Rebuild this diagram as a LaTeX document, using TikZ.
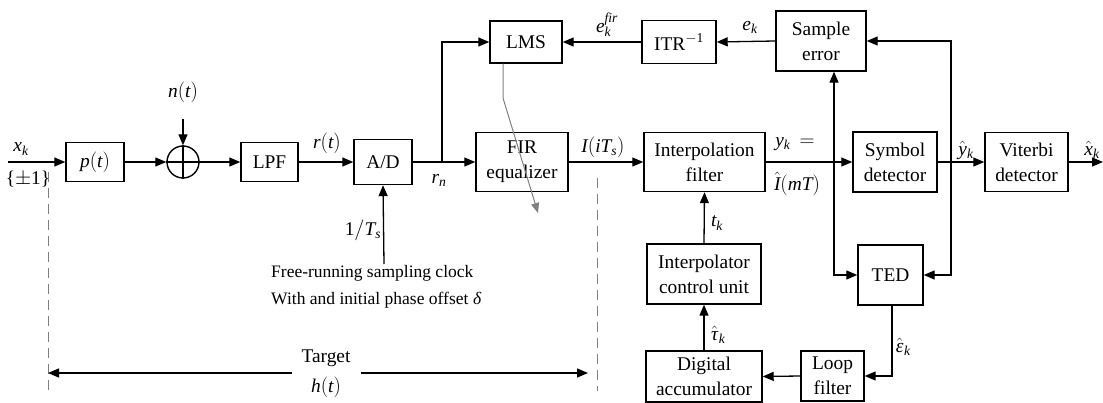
\documentclass[tikz,border=0pt]{standalone}
\usepackage{mathspec}
\setmainfont{Liberation Serif}
\setmathsfont(Digits,Latin,Greek){Liberation Serif}
\usetikzlibrary{arrows.meta}
\begin{document}
\begin{tikzpicture}[x=1pt,y=-1pt,
  font=\fontsize{19.4}{25}\selectfont,
  box/.style={draw, line width=1.4pt, align=center, inner sep=0pt},
  ar/.style={-{Triangle[length=11pt,width=9pt]}, line width=1.3pt},
  conn/.style={line width=1.3pt},
  lbl/.style={inner sep=0pt},
  grayline/.style={draw=gray, line width=1pt},
  dashln/.style={draw=gray, line width=1pt, dash pattern=on 10pt off 6pt}]
\useasboundingbox (0,0) rectangle (1103,403);

% blocks
\node[box, minimum width=58pt, minimum height=39pt] (pt) at (95,162) {$p(t)$};
\node[draw, circle, line width=1.4pt, minimum size=32pt, inner sep=0pt] (sum) at (183,162) {};
\draw[line width=1.3pt] (sum.north) -- (sum.south) (sum.west) -- (sum.east);
\node[box, minimum width=57pt, minimum height=39pt] (lpf) at (269.5,162) {LPF};
\node[box, minimum width=58pt, minimum height=45pt] (ad) at (383,162) {A/D};
\node[box, minimum width=92pt, minimum height=59pt] (fir) at (522,162) {FIR\\equalizer};
\node[box, minimum width=72pt, minimum height=42pt] (lms) at (526,42) {LMS};
\node[box, minimum width=74pt, minimum height=43pt] (itr) at (679,42) {ITR$^{-1}$};
\node[box, minimum width=90pt, minimum height=60pt] (serr) at (821,41) {Sample\\error};
\node[box, minimum width=121pt, minimum height=59pt] (interp) at (704.5,162) {Interpolation\\filter};
\node[box, minimum width=84pt, minimum height=60pt] (sym) at (895,162) {Symbol\\detector};
\node[box, minimum width=83pt, minimum height=59pt] (vit) at (1026.5,162) {Viterbi\\detector};
\node[box, minimum width=114pt, minimum height=60pt] (icu) at (704,274) {Interpolator\\control unit};
\node[box, minimum width=65pt, minimum height=60pt] (ted) at (890.5,275) {TED};
\node[box, minimum width=63pt, minimum height=50pt] (loop) at (832.5,376) {Loop\\filter};
\node[box, minimum width=116pt, minimum height=51pt] (dacc) at (704,376.5) {Digital\\accumulator};

% coordinates
\coordinate (xin) at (8,162);
\coordinate (brn) at (442,162);
\coordinate (bry) at (834,162);
\coordinate (bryh) at (951,162);
\coordinate (xout) at (1103,162);
\coordinate (clk) at (384,264);
\coordinate (g1) at (503,98);
\coordinate (g2) at (538,213);
\coordinate (dl1) at (48,172);
\coordinate (dl2) at (48,391);
\coordinate (dr1) at (597,178);
\coordinate (dr2) at (597,391);
\coordinate (tl) at (48,373);
\coordinate (tr) at (588,373);

% labels
\node[lbl] (lxk) at (21,149) {$x_k$};
\node[lbl] (lpm) at (28,179) {\{$\pm$1\}};
\node[lbl] (lnt) at (183,92) {$n(t)$};
\node[lbl] (lrt) at (327,143) {$r(t)$};
\node[lbl] (lrn) at (439,180) {$r_n$};
\node[lbl] (lI) at (603,147) {$I(iT_s)$};
\node[lbl] (lefir) at (607,25) {$e_k^{fir}$};
\node[lbl] (lek) at (750,27) {$e_k$};
\node[lbl] (lyk) at (795,144) {$y_k\,=$};
\node[lbl] (lImt) at (797,184) {$\hat{I}(mT)$};
\node[lbl] (lyh) at (966,150) {$\hat{y}_k$};
\node[lbl] (lxh) at (1092,150) {$\hat{x}_k$};
\node[lbl] (ltk) at (717,223) {$t_k$};
\node[lbl] (ltau) at (718,335) {$\hat{\tau}_k$};
\node[lbl] (leps) at (903,347) {$\hat{\epsilon}_k$};
\node[lbl] (lTs) at (363,230) {$1/T_s$};
\node[lbl, align=left, anchor=north west, font=\fontsize{17.5}{27}\selectfont] (lclk) at (271,265) {Free-running sampling clock\\With and initial phase offset $\delta$};

% connectors
\draw[ar] (xin) -- (pt.west);
\draw[ar] (pt.east) -- (sum.west);
\draw[ar] (lnt.south) ++(0,16) -- (sum.north);
\draw[ar] (sum.east) -- (lpf.west);
\draw[ar] (lpf.east) -- (ad.west);
\draw[ar] (ad.east) -- (fir.west);
\draw[ar] (brn) |- (lms.west);
\draw[ar] (fir.east) -- (interp.west);
\draw[ar] (interp.east) -- (sym.west);
\draw[ar] (sym.east) -- (vit.west);
\draw[ar] (vit.east) -- (xout);
\draw[ar] (bry) -- (bry |- serr.south);
\draw[ar] (bry) |- (ted.west);
\draw[ar] (bryh) |- (serr.east);
\draw[ar] (bryh) |- (ted.east);
\draw[ar] (serr.west) -- (itr.east);
\draw[ar] (itr.west) -- (lms.east);
\draw[ar] (ted.south -| 892,0) |- (loop.east);
\draw[ar] (loop.west) -- (dacc.east);
\draw[ar] (dacc.north) -- (icu.south);
\draw[ar] (icu.north) -- (interp.south);
\draw[ar] (clk) -- (ad.south);

% gray adaptation line
\draw[grayline, -{Triangle[length=10pt,width=8pt]}] (lms.south -| g1) -- (g1) -- (g2);

% dashed boundaries and target
\draw[dashln] (dl1) -- (dl2);
\draw[dashln] (dr1) -- (dr2);
\draw[line width=1.3pt, {Triangle[length=11pt,width=9pt]}-{Triangle[length=11pt,width=9pt]}] (tl) -- (tr);
\node[fill=white, align=center, inner sep=2pt, minimum width=69pt, font=\fontsize{19.4}{30}\selectfont] (tgt) at (326,374) {Target\\$h(t)$};
\end{tikzpicture}
\end{document}
